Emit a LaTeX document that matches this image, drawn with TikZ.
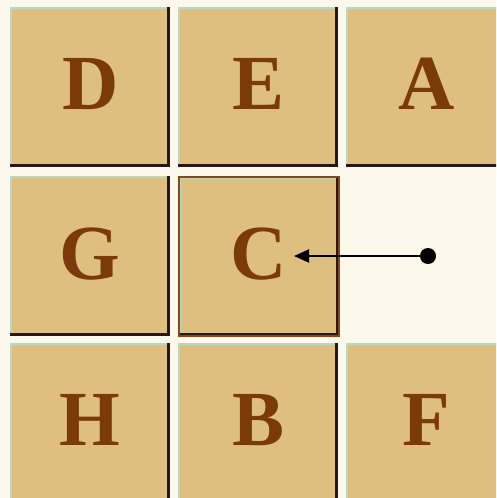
\documentclass[tikz,border=0pt]{standalone}
\usepackage{fontspec}
\newfontfamily\tileserif{Liberation Serif}
\usetikzlibrary{arrows.meta}
\definecolor{bgcol}{RGB}{253,248,236}
\definecolor{tilefill}{RGB}{222,191,128}
\definecolor{lettercol}{RGB}{122,58,10}
\definecolor{shadowcol}{RGB}{38,24,24}
\definecolor{edgegreen}{RGB}{184,216,196}
\definecolor{selbrown}{RGB}{140,70,15}
\tikzset{
  tile/.style={anchor=north west, minimum width=160pt, minimum height=160pt, inner sep=0pt,
    fill=tilefill, text=lettercol, font=\tileserif\bfseries\fontsize{78}{80}\selectfont,
    text depth=6pt,
    path picture={
      \fill[edgegreen] (path picture bounding box.north west) rectangle ([xshift=2pt]path picture bounding box.south west);
      \fill[edgegreen] (path picture bounding box.north west) rectangle ([yshift=-2pt]path picture bounding box.north east);
      \fill[shadowcol] ([xshift=-3pt]path picture bounding box.north east) rectangle (path picture bounding box.south east);
      \fill[shadowcol] ([yshift=3pt]path picture bounding box.south west) rectangle (path picture bounding box.south east);
    }},
  selected/.style={draw=selbrown, line width=1.5pt},
  dotnode/.style={circle, fill=black, inner sep=0pt, minimum size=16pt},
  pointer/.style={-{Triangle[length=15pt,width=13pt]}, line width=2pt, black}
}
\begin{document}
\begin{tikzpicture}[x=1pt,y=-1pt]
  \useasboundingbox (0,0) rectangle (496,498);
  \clip (0,0) rectangle (496,498);
  \fill[bgcol] (0,0) rectangle (496,498);
  % row 1
  \node[tile] (D) at (10,7) {D};
  \node[tile] (E) at (178,7) {E};
  \node[tile] (A) at (346,7) {A};
  % row 2
  \node[tile] (G) at (10,176) {G};
  \node[tile, selected, minimum height=159pt] (C) at (178,176) {C};
  % row 3
  \node[tile] (H) at (10,343) {H};
  \node[tile] (B) at (178,343) {B};
  \node[tile] (F) at (346,343) {F};
  % pointer
  \node[dotnode] (dot) at (428,256) {};
  \coordinate (ctip) at (294,256);
  \draw[pointer] (dot) -- (ctip);
\end{tikzpicture}
\end{document}
